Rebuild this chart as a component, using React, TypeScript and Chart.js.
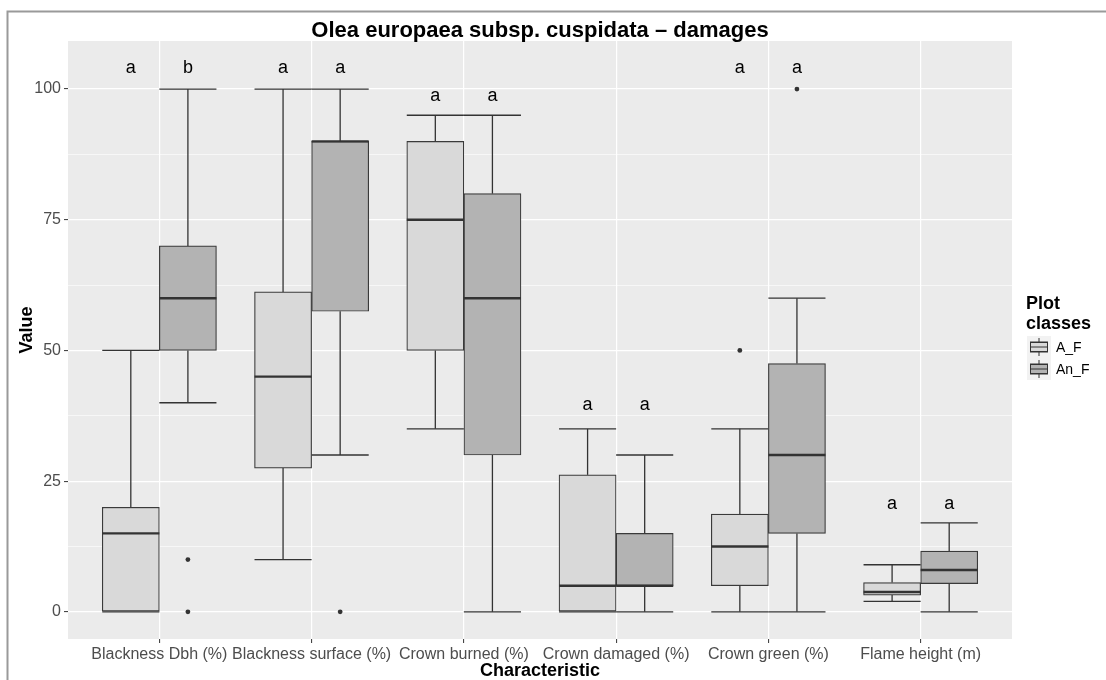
import React, { useEffect, useRef } from 'react';
import { Chart, registerables } from 'chart.js';

Chart.register(...registerables);

// ---- chart data -------------------------------------------------------
const TITLE = 'Olea europaea subsp. cuspidata – damages';
const X_TITLE = 'Characteristic';
const Y_TITLE = 'Value';
const LEGEND_TITLE = ['Plot', 'classes'];

const CATEGORIES = [
  'Blackness Dbh (%)',
  'Blackness surface (%)',
  'Crown burned (%)',
  'Crown damaged (%)',
  'Crown green (%)',
  'Flame height (m)',
];
const SERIES = ['A_F', 'An_F'];

const Y_MAJOR_TICKS = [0, 25, 50, 75, 100];
const Y_MINOR_TICKS = [12.5, 37.5, 62.5, 87.5];

// A_F: whisker ends, quartiles, median, outliers
const AF_LOW = [0, 10, 35, 0, 0, 2];
const AF_Q1 = [0, 27.5, 50, 0, 5, 3.2];
const AF_MEDIAN = [15, 45, 75, 5, 12.5, 3.8];
const AF_Q3 = [20, 61.2, 90, 26.2, 18.7, 5.6];
const AF_HIGH = [50, 100, 95, 35, 35, 9];
const AF_OUTLIERS = [[], [], [], [], [50], []];

// An_F: whisker ends, quartiles, median, outliers
const ANF_LOW = [40, 30, 0, 0, 0, 0];
const ANF_Q1 = [50, 57.5, 30, 5, 15, 5.4];
const ANF_MEDIAN = [60, 90, 60, 5, 30, 8];
const ANF_Q3 = [70, 90, 80, 15, 47.5, 11.6];
const ANF_HIGH = [100, 100, 95, 30, 60, 17];
const ANF_OUTLIERS = [[10, 0], [0], [], [], [100], []];

// significance letters and the height they sit at
const AF_LETTERS = ['a', 'a', 'a', 'a', 'a', 'a'];
const ANF_LETTERS = ['b', 'a', 'a', 'a', 'a', 'a'];
const LETTER_HEIGHT = [104, 104, 98.6, 39.5, 104, 20.7];

// ---- styling ----------------------------------------------------------
const FONT = '"Liberation Sans", Arial, Helvetica, sans-serif';
const FILLS = ['#D9D9D9', '#B3B3B3'];
const LINE = '#333333';
const PANEL = '#EBEBEB';
const DODGE = [-0.1875, 0.1875];

type Stats = { low: number[]; q1: number[]; med: number[]; q3: number[]; high: number[]; out: number[][]; letters: string[] };
const STATS: Stats[] = [
  { low: AF_LOW, q1: AF_Q1, med: AF_MEDIAN, q3: AF_Q3, high: AF_HIGH, out: AF_OUTLIERS, letters: AF_LETTERS },
  { low: ANF_LOW, q1: ANF_Q1, med: ANF_MEDIAN, q3: ANF_Q3, high: ANF_HIGH, out: ANF_OUTLIERS, letters: ANF_LETTERS },
];

const hLine = (ctx: CanvasRenderingContext2D, x1: number, x2: number, y: number) => {
  ctx.beginPath();
  ctx.moveTo(x1, y);
  ctx.lineTo(x2, y);
  ctx.stroke();
};
const vLine = (ctx: CanvasRenderingContext2D, x: number, y1: number, y2: number) => {
  ctx.beginPath();
  ctx.moveTo(x, y1);
  ctx.lineTo(x, y2);
  ctx.stroke();
};

const boxplotDecor = {
  id: 'boxplotDecor',
  beforeDraw(chart: any) {
    const { ctx, chartArea: a, width, height } = chart;
    ctx.save();
    ctx.fillStyle = '#FFFFFF';
    ctx.fillRect(0, 0, width, height);
    ctx.fillStyle = PANEL;
    ctx.fillRect(a.left, a.top, a.right - a.left, a.bottom - a.top);
    ctx.restore();
  },
  beforeDatasetsDraw(chart: any) {
    // whiskers with end caps
    const { ctx } = chart;
    const xs = chart.scales.x;
    const ys = chart.scales.y;
    ctx.save();
    ctx.strokeStyle = LINE;
    ctx.lineWidth = 1.3;
    STATS.forEach((st, s) => {
      const bars = chart.getDatasetMeta(s).data;
      CATEGORIES.forEach((_, i) => {
        const x = xs.getPixelForValue(i + 1 + DODGE[s]);
        const half = bars[i].width / 2;
        vLine(ctx, x, ys.getPixelForValue(st.high[i]), ys.getPixelForValue(st.q3[i]));
        vLine(ctx, x, ys.getPixelForValue(st.q1[i]), ys.getPixelForValue(st.low[i]));
        hLine(ctx, x - half, x + half, ys.getPixelForValue(st.high[i]));
        hLine(ctx, x - half, x + half, ys.getPixelForValue(st.low[i]));
      });
    });
    ctx.restore();
  },
  afterDatasetsDraw(chart: any) {
    const { ctx } = chart;
    const xs = chart.scales.x;
    const ys = chart.scales.y;
    ctx.save();
    // medians
    ctx.strokeStyle = LINE;
    ctx.lineWidth = 2.4;
    STATS.forEach((st, s) => {
      const bars = chart.getDatasetMeta(s).data;
      CATEGORIES.forEach((_, i) => {
        const x = xs.getPixelForValue(i + 1 + DODGE[s]);
        const half = bars[i].width / 2;
        hLine(ctx, x - half, x + half, ys.getPixelForValue(st.med[i]));
      });
    });
    // letters above each box
    ctx.fillStyle = '#000000';
    ctx.font = `18px ${FONT}`;
    ctx.textAlign = 'center';
    ctx.textBaseline = 'alphabetic';
    STATS.forEach((st, s) => {
      CATEGORIES.forEach((_, i) => {
        const x = xs.getPixelForValue(i + 1 + DODGE[s]);
        ctx.fillText(st.letters[i], x, ys.getPixelForValue(LETTER_HEIGHT[i]) + 5);
      });
    });
    ctx.restore();
  },
  afterDraw(chart: any) {
    const { ctx, chartArea: a } = chart;
    ctx.save();
    // plot title
    ctx.fillStyle = '#000000';
    ctx.textAlign = 'center';
    ctx.textBaseline = 'alphabetic';
    ctx.font = `bold 22px ${FONT}`;
    ctx.fillText(TITLE, (a.left + a.right) / 2, 36.5);
    // axis titles
    ctx.font = `bold 18px ${FONT}`;
    ctx.fillText(X_TITLE, (a.left + a.right) / 2, 676);
    ctx.save();
    ctx.translate(31.5, 330);
    ctx.rotate(-Math.PI / 2);
    ctx.fillText(Y_TITLE, 0, 0);
    ctx.restore();
    // legend
    ctx.textAlign = 'left';
    ctx.font = `bold 18px ${FONT}`;
    ctx.fillText(LEGEND_TITLE[0], 1026, 309);
    ctx.fillText(LEGEND_TITLE[1], 1026, 329);
    SERIES.forEach((name, s) => {
      const kx = 1027;
      const ky = 336 + s * 22;
      const kw = 24;
      const kh = 22;
      ctx.fillStyle = '#F2F2F2';
      ctx.fillRect(kx, ky, kw, kh);
      ctx.strokeStyle = LINE;
      ctx.lineWidth = 1;
      const bx1 = kx + 3;
      const bx2 = kx + kw - 3;
      const cx = kx + kw / 2;
      vLine(ctx, cx, ky + 2, ky + 6);
      vLine(ctx, cx, ky + kh - 6, ky + kh - 2);
      hLine(ctx, bx1, bx2, ky + 6);
      hLine(ctx, bx1, bx2, ky + kh - 6);
      ctx.fillStyle = FILLS[s];
      ctx.fillRect(bx1, ky + 6, bx2 - bx1, kh - 12);
      ctx.strokeRect(bx1 + 0.5, ky + 6.5, bx2 - bx1 - 1, kh - 13);
      hLine(ctx, bx1, bx2, ky + kh / 2);
      ctx.fillStyle = '#000000';
      ctx.font = `14px ${FONT}`;
      ctx.fillText(name, 1056, ky + 16);
    });
    // figure frame
    ctx.strokeStyle = '#9A9A9A';
    ctx.lineWidth = 2;
    ctx.strokeRect(7.5, 11.5, 1300, 900);
    ctx.restore();
  },
};

export default function App() {
  const ref = useRef<HTMLCanvasElement | null>(null);

  useEffect(() => {
    document.body.style.margin = '0';
    document.body.style.overflow = 'hidden';
    const canvas = ref.current;
    if (!canvas) return;

    const boxDatasets = STATS.map((st, s) => ({
      type: 'bar' as const,
      label: SERIES[s],
      data: CATEGORIES.map((_, i) => ({ x: i + 1 + DODGE[s], y: [st.q1[i], st.q3[i]] })),
      backgroundColor: FILLS[s],
      borderColor: '#3A3A3A',
      borderWidth: 1.2,
      borderSkipped: false as const,
      grouped: false,
      categoryPercentage: 1,
      barPercentage: 1,
      order: 2,
    }));
    const outlierDatasets = STATS.map((st, s) => ({
      type: 'scatter' as const,
      label: `${SERIES[s]} outliers`,
      data: st.out.flatMap((vals, i) => vals.map((v) => ({ x: i + 1 + DODGE[s], y: v }))),
      pointRadius: 2.4,
      pointBackgroundColor: LINE,
      pointBorderWidth: 0,
      order: 1,
    }));

    const chart = new Chart(canvas, {
      type: 'bar',
      data: { datasets: [...boxDatasets, ...outlierDatasets] as any },
      options: {
        responsive: false,
        animation: false,
        devicePixelRatio: 1,
        layout: { padding: { left: 0, top: 41, right: 94, bottom: 0 } },
        plugins: { legend: { display: false }, tooltip: { enabled: false } },
        scales: {
          x: {
            type: 'linear',
            offset: false,
            min: 0.4,
            max: 6.6,
            afterBuildTicks: (axis: any) => {
              axis.ticks = CATEGORIES.map((_, i) => ({ value: i + 1 }));
            },
            afterFit: (axis: any) => {
              axis.height = 41;
            },
            ticks: {
              autoSkip: false,
              maxRotation: 0,
              minRotation: 0,
              padding: 2,
              color: '#4D4D4D',
              font: { family: FONT, size: 16 },
              callback: (v: any) => CATEGORIES[Math.round(Number(v)) - 1] ?? '',
            },
            grid: { offset: false, color: '#FFFFFF', lineWidth: 1.2, tickLength: 4, tickColor: LINE, tickWidth: 1 },
            border: { display: false },
          },
          y: {
            type: 'linear',
            min: -5.2,
            max: 109.2,
            afterBuildTicks: (axis: any) => {
              axis.ticks = [...Y_MAJOR_TICKS, ...Y_MINOR_TICKS]
                .sort((p, q) => p - q)
                .map((value) => ({ value }));
            },
            afterFit: (axis: any) => {
              axis.width = 68;
            },
            ticks: {
              padding: 3,
              color: '#4D4D4D',
              font: { family: FONT, size: 16 },
              callback: (v: any) => (Y_MAJOR_TICKS.includes(Number(v)) ? String(v) : ''),
            },
            grid: {
              color: '#FFFFFF',
              lineWidth: (c: any) => (Y_MAJOR_TICKS.includes(c.tick?.value) ? 1.2 : 0.6),
              tickLength: 4,
              tickColor: (c: any) => (Y_MAJOR_TICKS.includes(c.tick?.value) ? LINE : 'rgba(0,0,0,0)'),
              tickWidth: 1,
            },
            border: { display: false },
          },
        },
      },
      plugins: [boxplotDecor],
    });

    return () => chart.destroy();
  }, []);

  return (
    <canvas
      ref={ref}
      width={1106}
      height={680}
      style={{ display: 'block', width: 1106, height: 680 }}
    />
  );
}
